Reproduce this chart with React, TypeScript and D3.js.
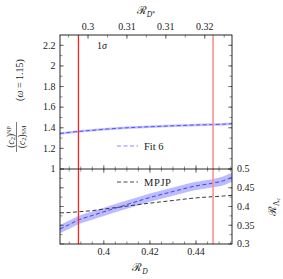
import React from 'react';
import * as d3 from 'd3';

// R_D sample points shared by all curves
const rD = [0.381, 0.385, 0.389, 0.395, 0.4, 0.41, 0.42, 0.43, 0.44, 0.447, 0.452, 0.456];
// (c2)NP/(c2)SM for Fit 6 (top panel)
const ratioFit = [1.345, 1.355, 1.364, 1.375, 1.385, 1.4, 1.41, 1.419, 1.427, 1.431, 1.435, 1.44];
const ratioErr = [0.012, 0.012, 0.012, 0.012, 0.012, 0.012, 0.012, 0.012, 0.012, 0.012, 0.012, 0.012];
// R_Lambda_c for Fit 6 (bottom panel)
const rLcFit = [0.34, 0.352, 0.364, 0.376, 0.386, 0.405, 0.424, 0.44, 0.455, 0.462, 0.469, 0.479];
const rLcErr = [0.011, 0.011, 0.011, 0.011, 0.011, 0.011, 0.011, 0.011, 0.011, 0.011, 0.012, 0.012];
// MPJP reference
const rLcMpjp = [0.383, 0.384, 0.386, 0.389, 0.393, 0.401, 0.409, 0.416, 0.423, 0.426, 0.428, 0.43];

const rDTicks = [0.4, 0.42, 0.44];
const rDStarTicks = [0.3, 0.305, 0.31, 0.315];
const rDStarLabels = ['0.3', '0.31', '0.31', '0.32'];
const ratioTicks = [1, 1.2, 1.4, 1.6, 1.8, 2, 2.2];
const rLcTicks = [0.3, 0.35, 0.4, 0.45, 0.5];
const sigmaBounds = [0.389, 0.4474];

const L = 60, R = 232, T = 35, M = 169, B = 244;
const font = "'Liberation Serif', 'DejaVu Serif', serif";

export default function App() {
  const x = d3.scaleLinear().domain([0.381, 0.4556]).range([L, R]);
  const xTop = d3.scaleLinear().domain([0.2964, 0.3185]).range([L, R]);
  const yTop = d3.scaleLinear().domain([1, 2.3]).range([M, T]);
  const yBot = d3.scaleLinear().domain([0.3, 0.5]).range([B, M]);

  const idx = rD.map((_, i) => i);
  const bandTop = d3.area<number>().x(i => x(rD[i])).y0(i => yTop(ratioFit[i] - ratioErr[i])).y1(i => yTop(ratioFit[i] + ratioErr[i])).curve(d3.curveMonotoneX);
  const lineTop = d3.line<number>().x(i => x(rD[i])).y(i => yTop(ratioFit[i])).curve(d3.curveMonotoneX);
  const bandBot = d3.area<number>().x(i => x(rD[i])).y0(i => yBot(rLcFit[i] - rLcErr[i])).y1(i => yBot(rLcFit[i] + rLcErr[i])).curve(d3.curveMonotoneX);
  const lineBot = d3.line<number>().x(i => x(rD[i])).y(i => yBot(rLcFit[i])).curve(d3.curveMonotoneX);
  const lineMpjp = d3.line<number>().x(i => x(rD[i])).y(i => yBot(rLcMpjp[i])).curve(d3.curveMonotoneX);

  const minorX = d3.range(0.385, 0.456, 0.005);
  const minorXTop = d3.range(0.2975, 0.3185, 0.0025);
  const minorYTop = d3.range(1.1, 2.3, 0.1);
  const minorYBot = d3.range(0.325, 0.5, 0.025);
  const tk = '#444';

  return (
    <svg width={283} height={279} style={{ position: 'absolute', left: 0, top: 0 }} fontFamily={font}>
      <rect width={283} height={279} fill="#fff" />
      <defs>
        <clipPath id="cTop"><rect x={L} y={T} width={R - L} height={M - T} /></clipPath>
        <clipPath id="cBot"><rect x={L} y={M} width={R - L} height={B - M} /></clipPath>
      </defs>

      {/* curves */}
      <g clipPath="url(#cTop)">
        <path d={bandTop(idx) || ''} fill="#7777ff" fillOpacity={0.45} />
        <path d={lineTop(idx) || ''} fill="none" stroke="#4444ff" strokeWidth={0.9} strokeDasharray="4,2.5" />
      </g>
      <g clipPath="url(#cBot)">
        <path d={bandBot(idx) || ''} fill="#7777ff" fillOpacity={0.5} />
        <path d={lineBot(idx) || ''} fill="none" stroke="#3333ee" strokeWidth={0.9} strokeDasharray="4,2.5" />
        <path d={lineMpjp(idx) || ''} fill="none" stroke="#222" strokeWidth={0.9} strokeDasharray="4,2.5" />
      </g>

      {/* 1 sigma bounds */}
      <line x1={x(sigmaBounds[0])} x2={x(sigmaBounds[0])} y1={T} y2={B} stroke="#ff2020" strokeWidth={1.3} />
      <line x1={x(sigmaBounds[1])} x2={x(sigmaBounds[1])} y1={T} y2={B} stroke="#ff9090" strokeWidth={1.6} />

      {/* ticks */}
      <g stroke={tk} strokeWidth={0.6}>
        {rDStarTicks.map(v => <line key={'ts' + v} x1={xTop(v)} x2={xTop(v)} y1={T} y2={T + 4} />)}
        {minorXTop.map(v => <line key={'tsm' + v} x1={xTop(v)} x2={xTop(v)} y1={T} y2={T + 2.5} />)}
        {rDTicks.map(v => <g key={'rd' + v}>
          <line x1={x(v)} x2={x(v)} y1={B} y2={B - 4} />
          <line x1={x(v)} x2={x(v)} y1={M} y2={M + 4} />
          <line x1={x(v)} x2={x(v)} y1={M} y2={M - 4} />
        </g>)}
        {minorX.map(v => <g key={'rdm' + v}>
          <line x1={x(v)} x2={x(v)} y1={B} y2={B - 2.5} />
          <line x1={x(v)} x2={x(v)} y1={M} y2={M + 2.5} />
          <line x1={x(v)} x2={x(v)} y1={M} y2={M - 2.5} />
        </g>)}
        {ratioTicks.map(v => <g key={'yt' + v}>
          <line x1={L} x2={L + 4} y1={yTop(v)} y2={yTop(v)} />
          <line x1={R} x2={R - 4} y1={yTop(v)} y2={yTop(v)} />
        </g>)}
        {minorYTop.map(v => <g key={'ytm' + v}>
          <line x1={L} x2={L + 2.5} y1={yTop(v)} y2={yTop(v)} />
          <line x1={R} x2={R - 2.5} y1={yTop(v)} y2={yTop(v)} />
        </g>)}
        {rLcTicks.map(v => <g key={'yb' + v}>
          <line x1={L} x2={L + 4} y1={yBot(v)} y2={yBot(v)} />
          <line x1={R} x2={R - 4} y1={yBot(v)} y2={yBot(v)} />
        </g>)}
        {minorYBot.map(v => <g key={'ybm' + v}>
          <line x1={L} x2={L + 2.5} y1={yBot(v)} y2={yBot(v)} />
          <line x1={R} x2={R - 2.5} y1={yBot(v)} y2={yBot(v)} />
        </g>)}
      </g>

      {/* frame */}
      <rect x={L} y={T} width={R - L} height={B - T} fill="none" stroke="#111" strokeWidth={0.9} />
      <line x1={L} x2={R} y1={M} y2={M} stroke="#111" strokeWidth={0.9} />

      {/* tick labels */}
      <g fontSize={10} fill="#222">
        {rDStarTicks.map((v, i) => <text key={'tl' + v} x={xTop(v)} y={30} textAnchor="middle">{rDStarLabels[i]}</text>)}
        {rDTicks.map(v => <text key={'bl' + v} x={x(v)} y={255} textAnchor="middle">{v}</text>)}
        {ratioTicks.map(v => <text key={'ll' + v} x={55.5} y={yTop(v)} dy="0.33em" textAnchor="end">{v}</text>)}
        {rLcTicks.map(v => <text key={'rl' + v} x={237} y={yBot(v)} dy="0.33em" textAnchor="start">{v}</text>)}
      </g>

      {/* annotations and legends */}
      <text x={97} y={49} fontSize={10} fill="#222">1<tspan fontStyle="italic">σ</tspan></text>
      <line x1={117} x2={138} y1={146} y2={146} stroke="#8888ff" strokeWidth={1} strokeDasharray="4,2.5" />
      <text x={144} y={149.5} fontSize={10.5} fill="#222">Fit 6</text>
      <line x1={117} x2={138} y1={182} y2={182} stroke="#333" strokeWidth={0.9} strokeDasharray="4,2.5" />
      <text x={144} y={185.5} fontSize={10.5} fill="#222" letterSpacing={0.6}>MPJP</text>

      {/* axis titles */}
      <text x={146} y={14} fontSize={11} textAnchor="middle" fill="#222">
        <tspan>ℛ</tspan><tspan fontSize={7.5} dy={2.5} fontStyle="italic">D</tspan><tspan fontSize={6.5} dy={-2}>*</tspan>
      </text>
      <text x={140} y={271} fontSize={11} textAnchor="middle" fill="#222">
        <tspan>ℛ</tspan><tspan fontSize={7.5} dy={2.5} fontStyle="italic">D</tspan>
      </text>
      <g transform="translate(276,207) rotate(-90)">
        <text x={0} y={0} fontSize={11} textAnchor="middle" fill="#222">
          <tspan>ℛ</tspan><tspan fontSize={7.5} dy={2.5}>Λ</tspan><tspan fontSize={5.5} dy={1.5} fontStyle="italic">c</tspan>
        </text>
      </g>
      <g transform="rotate(-90)" fill="#222">
        <text x={-80} y={22.5} fontSize={10} textAnchor="middle">(<tspan fontStyle="italic">ω</tspan> = 1.15)</text>
        <line x1={-152} x2={-122} y1={16.5} y2={16.5} stroke="#222" strokeWidth={0.6} />
        <text x={-137} y={13.5} fontSize={9.5} textAnchor="middle">(<tspan fontStyle="italic">c</tspan><tspan fontSize={6.5} dy={1.5}>2</tspan><tspan dy={-1.5}>)</tspan><tspan fontSize={6} dy={-3}>NP</tspan></text>
        <text x={-137} y={24.5} fontSize={9.5} textAnchor="middle">(<tspan fontStyle="italic">c</tspan><tspan fontSize={6.5} dy={1.5}>2</tspan><tspan dy={-1.5}>)</tspan><tspan fontSize={6} dy={1.5}>SM</tspan></text>
      </g>
    </svg>
  );
}
